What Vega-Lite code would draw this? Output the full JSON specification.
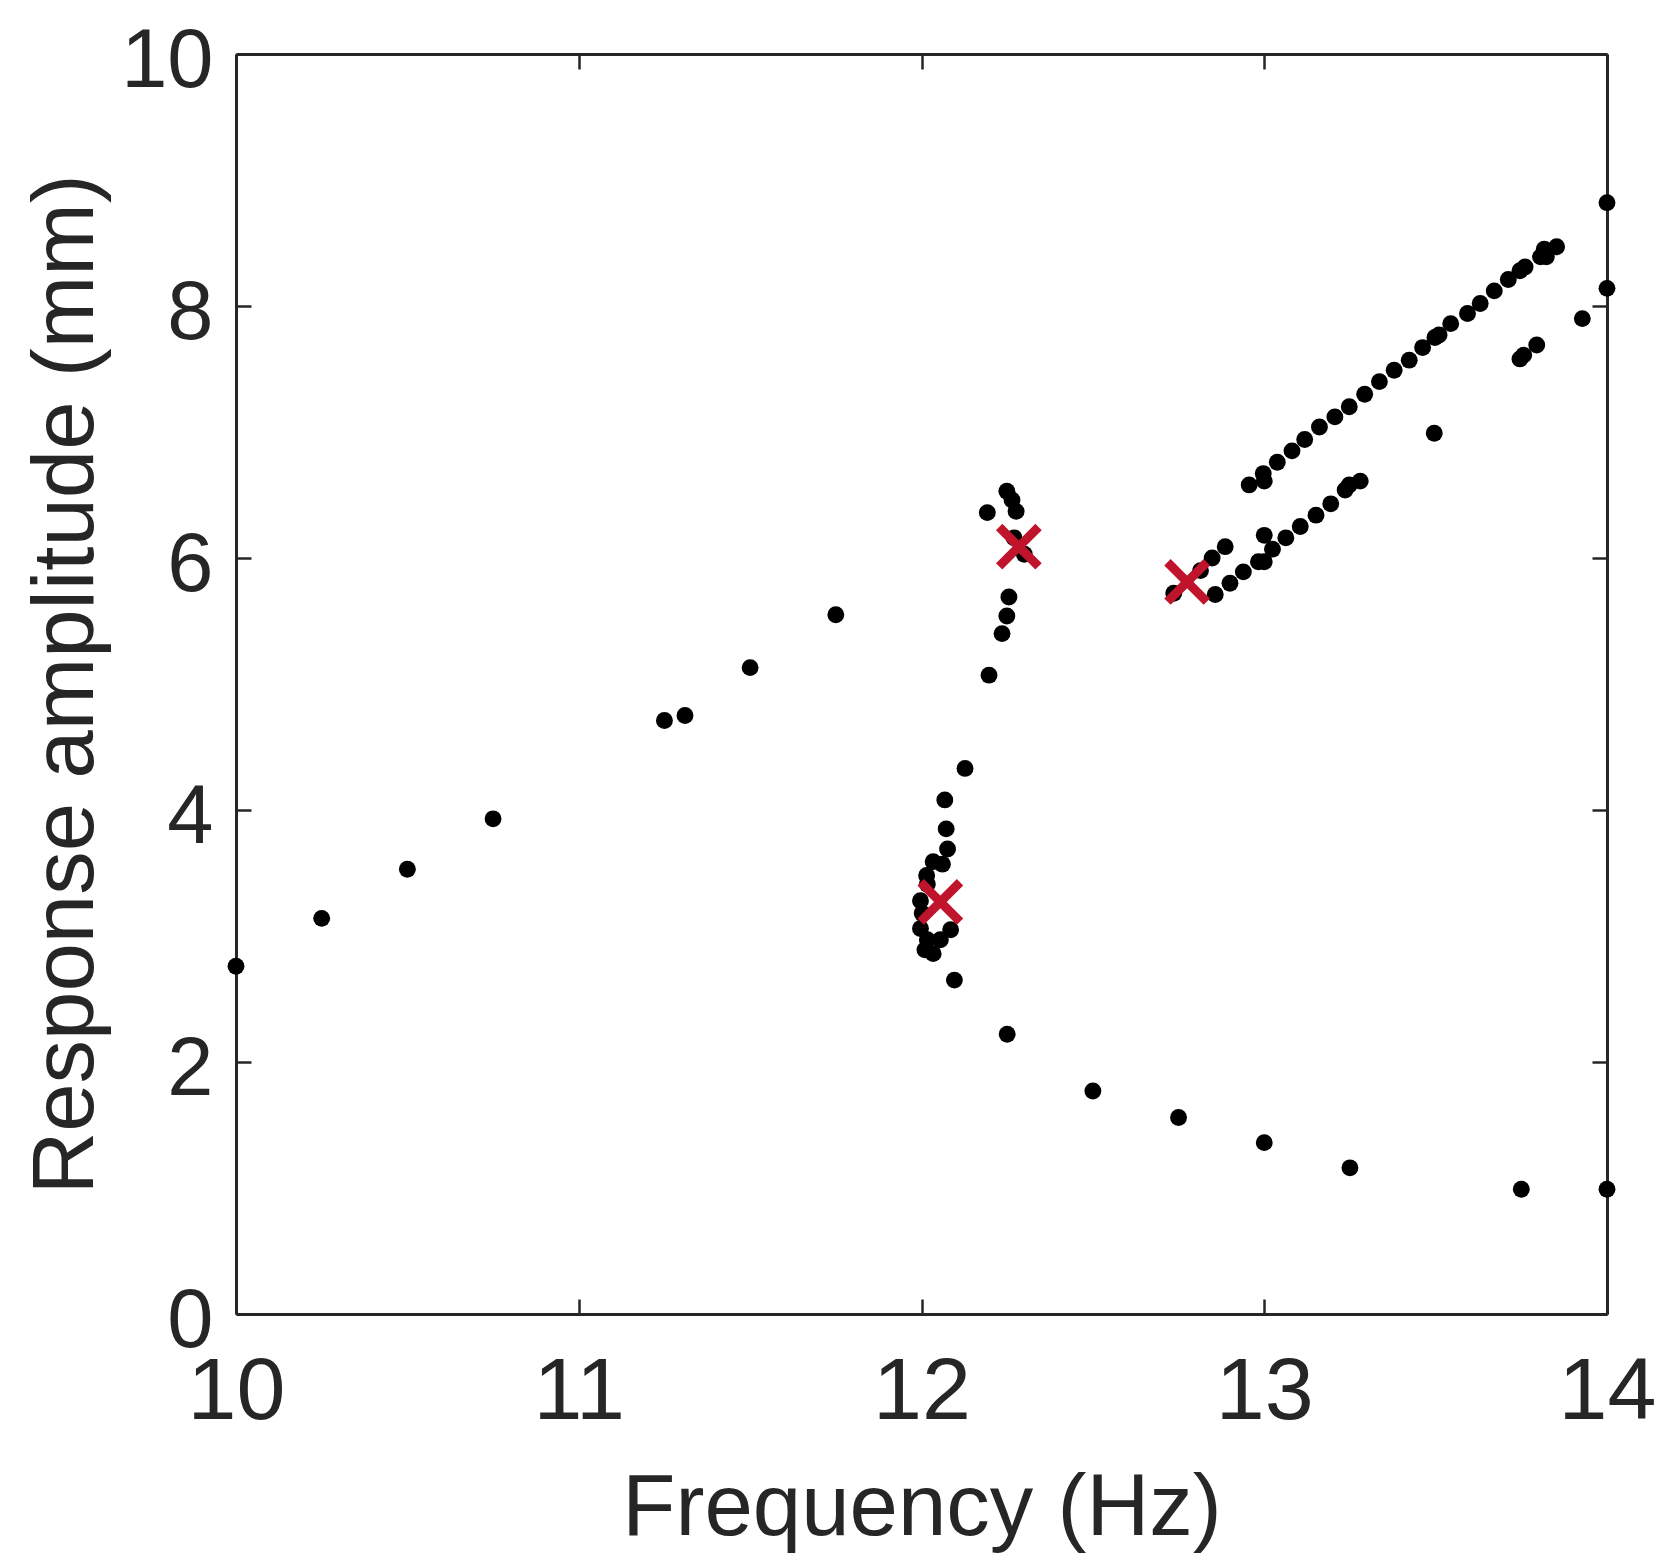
{
  "$schema": "https://vega.github.io/schema/vega-lite/v6.json",
  "width": 1371,
  "height": 1260,
  "autosize": "none",
  "padding": {"left": 236, "top": 54, "right": 68, "bottom": 243},
  "background": "white",
  "config": {
    "view": {"stroke": null},
    "font": "Liberation Sans",
    "axis": {
      "domainColor": "#262626",
      "domainWidth": 3,
      "tickColor": "#262626",
      "tickWidth": 2.5,
      "tickSize": -15,
      "grid": false,
      "labelColor": "#262626",
      "labelFont": "Liberation Sans",
      "labelFontSize": 84,
      "labelFlush": false,
      "labelOverlap": false,
      "titleColor": "#262626",
      "titleFont": "Liberation Sans",
      "titleFontSize": 87,
      "titleFontWeight": "normal"
    }
  },
  "datasets": {
    "dots": [
      {"f": 10.0, "a": 2.76}, {"f": 10.25, "a": 3.14}, {"f": 10.5, "a": 3.53}, {"f": 10.75, "a": 3.93},
      {"f": 11.25, "a": 4.71}, {"f": 11.31, "a": 4.75}, {"f": 11.5, "a": 5.13}, {"f": 11.75, "a": 5.55},
      {"f": 12.192, "a": 6.36}, {"f": 12.249, "a": 6.53}, {"f": 12.264, "a": 6.46}, {"f": 12.276, "a": 6.37},
      {"f": 12.27, "a": 6.16}, {"f": 12.3, "a": 6.03}, {"f": 12.255, "a": 5.69}, {"f": 12.249, "a": 5.54},
      {"f": 12.235, "a": 5.4}, {"f": 12.197, "a": 5.07},
      {"f": 12.127, "a": 4.33}, {"f": 12.068, "a": 4.08}, {"f": 12.072, "a": 3.85}, {"f": 12.076, "a": 3.69},
      {"f": 12.061, "a": 3.57}, {"f": 12.034, "a": 3.59}, {"f": 12.015, "a": 3.48}, {"f": 12.017, "a": 3.41},
      {"f": 11.997, "a": 3.28}, {"f": 12.002, "a": 3.18}, {"f": 11.997, "a": 3.06}, {"f": 12.085, "a": 3.05},
      {"f": 12.055, "a": 2.97}, {"f": 12.017, "a": 2.97}, {"f": 12.01, "a": 2.89}, {"f": 12.034, "a": 2.86},
      {"f": 12.096, "a": 2.65},
      {"f": 12.25, "a": 2.22}, {"f": 12.5, "a": 1.77}, {"f": 12.75, "a": 1.56}, {"f": 13.0, "a": 1.36},
      {"f": 13.25, "a": 1.16}, {"f": 13.75, "a": 0.99}, {"f": 14.0, "a": 0.99},
      {"f": 12.736, "a": 5.72}, {"f": 12.814, "a": 5.9}, {"f": 12.848, "a": 6.0}, {"f": 12.886, "a": 6.09},
      {"f": 12.857, "a": 5.71}, {"f": 12.9, "a": 5.8}, {"f": 12.939, "a": 5.89}, {"f": 12.983, "a": 5.97},
      {"f": 13.0, "a": 5.97}, {"f": 13.024, "a": 6.07}, {"f": 13.0, "a": 6.18}, {"f": 13.063, "a": 6.16},
      {"f": 13.105, "a": 6.25}, {"f": 13.151, "a": 6.34}, {"f": 13.194, "a": 6.43}, {"f": 13.236, "a": 6.54},
      {"f": 13.248, "a": 6.58}, {"f": 13.28, "a": 6.61},
      {"f": 12.956, "a": 6.58}, {"f": 12.997, "a": 6.67}, {"f": 13.0, "a": 6.61}, {"f": 13.038, "a": 6.76},
      {"f": 13.081, "a": 6.85}, {"f": 13.118, "a": 6.94}, {"f": 13.161, "a": 7.04}, {"f": 13.206, "a": 7.12},
      {"f": 13.248, "a": 7.2}, {"f": 13.293, "a": 7.3}, {"f": 13.336, "a": 7.4}, {"f": 13.379, "a": 7.49},
      {"f": 13.423, "a": 7.57}, {"f": 13.462, "a": 7.67}, {"f": 13.498, "a": 7.75}, {"f": 13.51, "a": 7.77},
      {"f": 13.544, "a": 7.86}, {"f": 13.593, "a": 7.94}, {"f": 13.63, "a": 8.02}, {"f": 13.671, "a": 8.12},
      {"f": 13.712, "a": 8.21}, {"f": 13.746, "a": 8.28}, {"f": 13.761, "a": 8.31}, {"f": 13.806, "a": 8.39},
      {"f": 13.823, "a": 8.39}, {"f": 13.817, "a": 8.45}, {"f": 13.853, "a": 8.47},
      {"f": 14.0, "a": 8.82}, {"f": 14.0, "a": 8.14}, {"f": 13.928, "a": 7.9}, {"f": 13.795, "a": 7.69},
      {"f": 13.746, "a": 7.58}, {"f": 13.757, "a": 7.61}, {"f": 13.496, "a": 6.99}
    ],
    "crosses": [
      {"f": 12.055, "a": 3.27}, {"f": 12.284, "a": 6.09}, {"f": 12.775, "a": 5.81}
    ]
  },
  "layer": [
    {
      "data": {"name": "dots"},
      "mark": {"type": "point", "shape": "circle", "filled": true, "color": "#000000", "opacity": 1, "size": 285, "strokeWidth": 0},
      "encoding": {
        "x": {"field": "f", "type": "quantitative", "scale": {"domain": [10, 14], "nice": false, "zero": false},
              "axis": {"orient": "bottom", "values": [10, 11, 12, 13, 14], "title": "Frequency (Hz)", "labelFontSize": 88, "labelPadding": 49, "titleBaseline": "alphabetic", "titleY": 220}},
        "y": {"field": "a", "type": "quantitative", "scale": {"domain": [0, 10], "nice": false},
              "axis": {"orient": "left", "values": [0, 2, 4, 6, 8, 10], "title": "Response amplitude (mm)", "labelFontSize": 83, "labelPadding": 38, "labelOffset": 7, "labelBaseline": "middle", "titleBaseline": "alphabetic", "titleX": -144, "titleAngle": -90}}
      }
    },
    {
      "data": {"name": "crosses"},
      "mark": {"type": "point", "shape": "M-1,-1L1,1M-1,1L1,-1", "filled": false, "stroke": "#C0142C", "strokeWidth": 9, "opacity": 1, "size": 1550},
      "encoding": {
        "x": {"field": "f", "type": "quantitative", "scale": {"domain": [10, 14], "nice": false, "zero": false},
              "axis": {"orient": "top", "values": [10, 11, 12, 13, 14], "labels": false, "title": null}},
        "y": {"field": "a", "type": "quantitative", "scale": {"domain": [0, 10], "nice": false},
              "axis": {"orient": "right", "values": [0, 2, 4, 6, 8, 10], "labels": false, "title": null}}
      }
    }
  ],
  "resolve": {"axis": {"x": "independent", "y": "independent"}}
}
